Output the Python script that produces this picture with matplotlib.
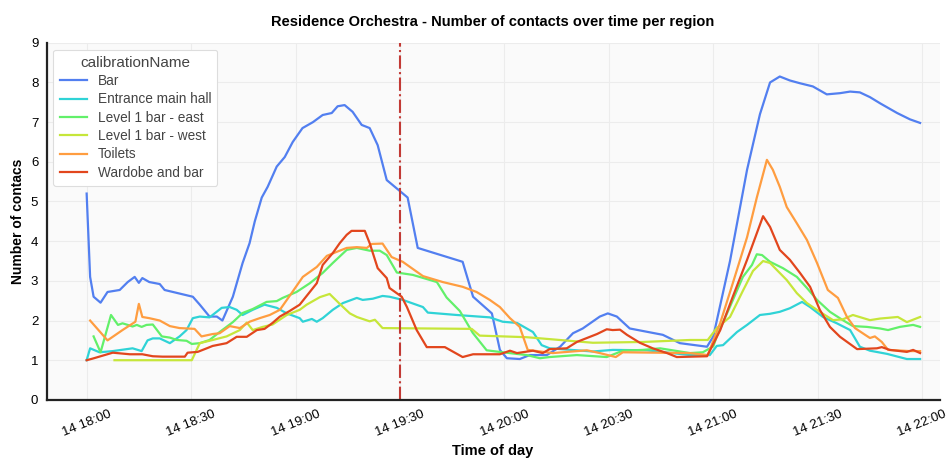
import numpy as np
import pandas as pd
import matplotlib
matplotlib.use("Agg")
import matplotlib.pyplot as plt
import matplotlib.dates as mdates

plt.rcParams['font.family'] = ['Liberation Sans', 'DejaVu Sans']

start = pd.Timestamp('2019-06-14 18:00')
marker_time = pd.Timestamp('2019-06-14 19:30')

# minutes after 18:00 and number of contacts, read per region
bar_min = [0, 1, 2, 4, 6, 9.5, 11.8, 13.8, 15, 16, 18, 21, 22.4, 30.5, 32.5, 35.3, 37.4, 39, 42, 44.8,
           46.8, 48.3, 50.3, 52, 54.6, 56.9, 59.2, 62, 65, 67.8, 70.4, 72.1, 74.1, 76.4, 79, 81.3, 83.6,
           86.2, 92.2, 95.1, 108, 111, 116.4, 118.7, 120.7, 124.4, 127.3, 132.2, 136, 139.7, 142.5,
           147.4, 149.7, 152.3, 156, 165.5, 170.4, 178.2, 180, 184.8, 189.7, 193.4, 196.3, 199.1, 202,
           204.9, 208.6, 212.6, 216.4, 219.3, 222.1, 225, 228, 232.8, 236.5, 239.4]
bar_val = [5.2, 3.1, 2.6, 2.45, 2.72, 2.77, 2.97, 3.1, 2.95, 3.07, 2.97, 2.92, 2.77, 2.6, 2.4, 2.1, 2.1, 2.0,
           2.6, 3.45, 3.95, 4.5, 5.1, 5.37, 5.88, 6.12, 6.5, 6.85, 7.0, 7.18, 7.23, 7.4, 7.43, 7.26, 6.93,
           6.85, 6.42, 5.54, 5.1, 3.83, 3.48, 2.6, 2.18, 1.26, 1.05, 1.03, 1.13, 1.13, 1.34, 1.68, 1.8,
           2.1, 2.18, 2.1, 1.8, 1.64, 1.43, 1.34, 1.6, 3.5, 5.8, 7.2, 8.0, 8.15, 8.05, 7.98, 7.9, 7.7,
           7.73, 7.77, 7.75, 7.63, 7.47, 7.23, 7.07, 6.98]

hall_min = [0, 1, 3.7, 7.5, 13.2, 15.8, 17.5, 19, 21, 23.9, 26.7, 28.7, 30.5, 32.5, 35.3, 38.8, 41.1, 43.1,
            44.8, 47.7, 51.1, 54.6, 57.5, 61.2, 62.1, 64.7, 66.1, 67.8, 70.7, 73.6, 77.6, 79.3, 82.2, 85,
            87, 90.8, 96.6, 98, 106.3, 115.8, 119.5, 123.6, 128.2, 130.7, 133, 145.4, 151.1, 161, 173.3,
            179, 181, 182.8, 186.8, 189.7, 193.4, 196.3, 199.1, 202, 205.5, 207.8, 211.5, 215.5, 219.3,
            222.1, 225, 229.9, 235.6, 239.4]
hall_val = [1.0, 1.3, 1.2, 1.23, 1.3, 1.23, 1.5, 1.55, 1.55, 1.43, 1.6, 1.76, 2.06, 2.1, 2.08, 2.32, 2.34, 2.27,
            2.14, 2.27, 2.4, 2.32, 2.18, 2.06, 1.97, 2.04, 1.97, 2.06, 2.27, 2.44, 2.57, 2.52, 2.55, 2.62,
            2.6, 2.52, 2.34, 2.2, 2.14, 2.08, 1.97, 1.94, 1.71, 1.38, 1.3, 1.22, 1.26, 1.25, 1.13,
            1.13, 1.36, 1.38, 1.71, 1.89, 2.14, 2.17, 2.22, 2.31, 2.47, 2.34, 2.09, 1.93, 1.76,
            1.34, 1.24, 1.16, 1.03, 1.03]

east_min = [2, 4, 7, 9, 10.3, 11.8, 13.2, 14.4, 15.8, 17.2, 19, 21.6, 23.9, 25.9, 28.7, 30.2, 32.5, 35.3,
            38.2, 42, 44.8, 47.7, 51.7, 54.6, 56.3, 60.3, 64.1, 67.8, 70.7, 74.7, 77.6, 81.3, 84.2, 86.2,
            89.1, 93.7, 100.6, 103.4, 107.2, 110.9, 114.9, 119.5, 126.4, 130.2, 133, 140.8, 149.4, 154,
            159.8, 164.7, 173.3, 177, 180, 181, 184.8, 188.5, 191.1, 192.5, 194, 196.3, 200, 204, 206.9,
            209.8, 213.5, 217.2, 220.1, 224.1, 227.9, 230.2, 233.6, 237.4, 239.4]
east_val = [1.6, 1.2, 2.14, 1.89, 1.93, 1.89, 1.85, 1.89, 1.84, 1.89, 1.9, 1.6, 1.57, 1.51, 1.49, 1.41, 1.43, 1.51,
            1.71, 1.96, 2.19, 2.29, 2.47, 2.49, 2.57, 2.72, 2.94, 3.2, 3.45, 3.78, 3.83, 3.76, 3.76, 3.65,
            3.21, 3.15, 2.97, 2.58, 2.24, 1.69, 1.25, 1.2, 1.13, 1.05, 1.08, 1.13, 1.08, 1.24,
            1.26, 1.3, 1.18, 1.2, 1.35, 1.6, 2.35, 3.1, 3.4, 3.67, 3.65, 3.48, 3.32, 3.1, 2.82,
            2.52, 2.22, 2.01, 1.86, 1.84, 1.8, 1.76, 1.84, 1.89, 1.84]

west_min = [8, 30.2, 32.5, 36.2, 40.2, 44, 46, 47.7, 50.6, 53.4, 57.5, 61.2, 63.2, 67, 69.8, 72.7, 75.6, 77.6,
            81.3, 82.8, 85, 110.6, 112.9, 126.4, 145.4, 159.8, 173.3, 178.4, 181, 184.8, 188.5, 191.4,
            194.3, 196.3, 198.3, 201.1, 204, 206.9, 210.6, 214.4, 217.2, 220.1, 225, 227.9, 233, 235.6, 239.4]
west_val = [1.0, 1.0, 1.43, 1.51, 1.6, 1.76, 1.95, 1.76, 1.84, 1.9, 2.14, 2.27, 2.4, 2.59, 2.67, 2.42, 2.18, 2.09,
            1.98, 2.02, 1.81, 1.79, 1.62, 1.58, 1.44, 1.46, 1.51, 1.51, 1.81, 2.09, 2.75, 3.25,
            3.5, 3.45, 3.27, 3.02, 2.69, 2.44, 2.22, 2.01, 2.03, 2.14, 2.01, 2.05, 2.09, 1.96, 2.09]

toilets_min = [1, 6, 10.3, 14, 15, 16, 18, 21, 23.9, 26.7, 31, 33, 36.2, 38.2, 41.1, 44, 46.8, 49.7, 52.6,
               55.5, 58.3, 62.1, 66.1, 69, 71.8, 74.7, 77.6, 80.5, 81.9, 85, 87.6, 90.8, 93.7, 96.6, 102.3,
               108, 112, 115.8, 118.7, 121.6, 124.4, 126.7, 133.9, 143.7, 147.4, 152, 154, 173.3, 178.4,
               182, 185.6, 189.7, 192.5, 195.4, 197.1, 199.1, 201.1, 204, 206.9, 209.8, 212.9, 215.8,
               218.4, 220.7, 223.6, 225, 226.4, 228.4, 230.2, 236.5, 239.4]
toilets_val = [2.0, 1.5, 1.76, 1.97, 2.42, 2.09, 2.06, 2.0, 1.86, 1.81, 1.79, 1.6, 1.66, 1.68, 1.86, 1.81, 1.97, 2.06, 2.14,
               2.27, 2.62, 3.1, 3.35, 3.63, 3.73, 3.83, 3.85, 3.83, 3.93, 3.94, 3.6, 3.48, 3.3, 3.12, 2.97,
               2.85, 2.72, 2.52, 2.34, 2.06, 1.84, 1.26, 1.18, 1.25, 1.18, 1.08, 1.2, 1.18, 1.13,
               1.94, 2.94, 4.1, 5.1, 6.05, 5.8, 5.37, 4.86, 4.45, 4.03, 3.45, 2.77, 2.57,
               2.09, 1.81, 1.64, 1.56, 1.6, 1.46, 1.26, 1.23, 1.23]

wardrobe_min = [0, 1.7, 7.5, 12.4, 16, 19, 21.8, 28.2, 29, 31.9, 34.5, 36.2, 40.2, 43.1, 46, 48.9, 51.1, 53.4,
                55.5, 58.3, 61.2, 64.1, 66.1, 67.8, 70.7, 72.7, 74.7, 76.1, 79.9, 81.3, 83.6, 86.2, 87, 90.5,
                92, 94.8, 97.7, 102.9, 108, 111, 118.7, 121.6, 123.6, 128.2, 131, 133, 137.9, 140.8, 143.7,
                146.6, 149.4, 151.1, 153.2, 155.2, 158.9, 162.6, 166.7, 169.5, 178.2, 182, 185.6, 189.7,
                192.5, 194.3, 196.3, 199.1, 202, 204.9, 207.8, 210.6, 213.5, 216.4, 221.3, 227, 228.4,
                230.7, 235.6, 237.4, 239.4]
wardrobe_val = [1.0, 1.04, 1.19, 1.15, 1.15, 1.1, 1.09, 1.09, 1.19, 1.21, 1.3, 1.36, 1.43, 1.59, 1.59, 1.76, 1.79, 1.94,
                2.1, 2.24, 2.4, 2.72, 2.94, 3.4, 3.7, 3.95, 4.16, 4.26, 4.26, 3.95, 3.32, 3.07, 2.82, 2.6,
                2.34, 1.76, 1.33, 1.33, 1.08, 1.15, 1.15, 1.24, 1.18, 1.24, 1.18, 1.28, 1.3, 1.46, 1.56,
                1.66, 1.78, 1.76, 1.77, 1.64, 1.44, 1.3, 1.18, 1.08, 1.1, 1.76, 2.6, 3.53,
                4.2, 4.63, 4.36, 3.78, 3.53, 3.2, 2.85, 2.27, 1.84, 1.59, 1.28, 1.3, 1.33,
                1.26, 1.21, 1.26, 1.18]

names = ['Bar', 'Entrance main hall', 'Level 1 bar - east', 'Level 1 bar - west', 'Toilets', 'Wardobe and bar']
series = [(bar_min, bar_val), (hall_min, hall_val), (east_min, east_val),
          (west_min, west_val), (toilets_min, toilets_val), (wardrobe_min, wardrobe_val)]
colors = ['#527ff0', '#2fd3d6', '#62f06a', '#c6e63a', '#ff9d40', '#e2461d']

fig = plt.figure(figsize=(9.51, 4.65), dpi=100)
ax = fig.add_axes([0.049, 0.14, 0.939, 0.768])
ax.set_facecolor('#fafafa')

for name, (mins, vals), c in zip(names, series, colors):
    t = start + pd.to_timedelta(mins, unit='m')
    ax.plot(t, vals, color=c, lw=1.6, label=name)

ax.axvline(marker_time, color='#c23a35', lw=1.5, ls='-.')

ax.set_ylim(0, 9)
ax.set_yticks(range(10))
ax.set_xlim(start - pd.Timedelta(minutes=11.5), start + pd.Timedelta(minutes=245))
ax.xaxis.set_major_locator(mdates.MinuteLocator(byminute=[0, 30]))
ax.xaxis.set_major_formatter(mdates.DateFormatter('%d %H:%M'))
plt.setp(ax.get_xticklabels(), rotation=22, ha='center')

ax.grid(True, color='#ececec', lw=0.8)
ax.set_axisbelow(True)
ax.tick_params(length=0, labelsize=9.5, pad=6)
for s in ['top', 'right']:
    ax.spines[s].set_visible(False)
for s in ['left', 'bottom']:
    ax.spines[s].set_color('#222222')
    ax.spines[s].set_linewidth(1.6)

ax.set_title('Residence Orchestra - Number of contacts over time per region',
             fontsize=10.5, fontweight='bold', pad=12)
ax.set_xlabel('Time of day', fontsize=10.5, fontweight='bold')
ax.set_ylabel('Number of contacs', fontsize=10, fontweight='bold')

leg = ax.legend(title='calibrationName', loc='upper left', fontsize=9.8, title_fontsize=11,
                frameon=True, fancybox=True, framealpha=1, edgecolor='#dddddd',
                borderaxespad=0.5, handlelength=2.0, labelspacing=0.32, borderpad=0.45)
leg.get_frame().set_linewidth(0.8)
leg.get_title().set_color('#444444')
for txt in leg.get_texts():
    txt.set_color('#444444')

fig.savefig('out.png', dpi=100)
